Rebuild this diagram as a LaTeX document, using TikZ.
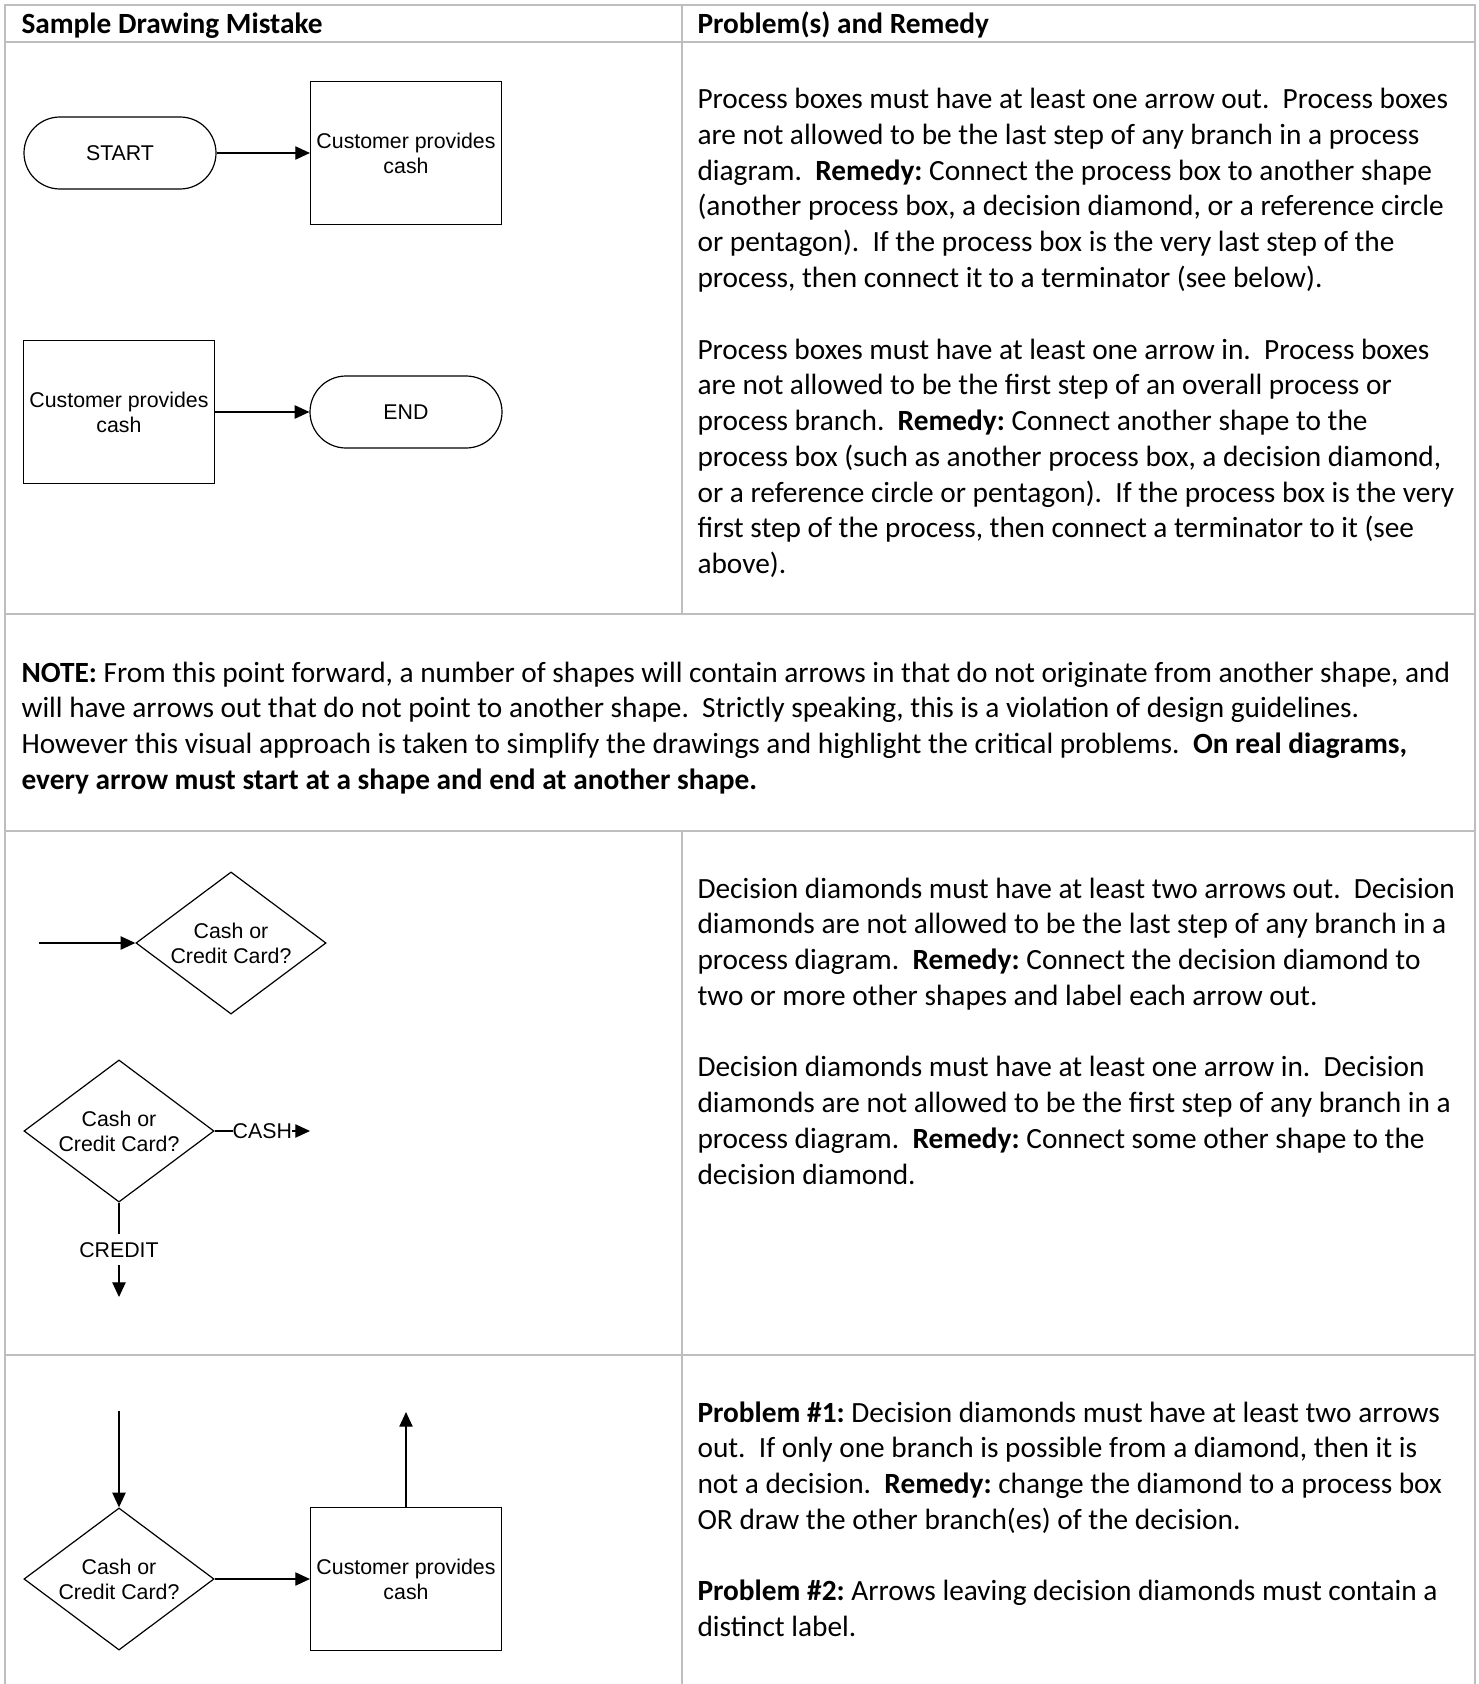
\documentclass[tikz,border=0pt]{standalone}
\usepackage{fontspec}
\setmainfont{Carlito}
\newfontfamily\arialf{Liberation Sans}
\usetikzlibrary{arrows.meta,shapes.geometric}
\definecolor{tablegray}{RGB}{190,190,190}
\newcommand{\bodytext}[2]{\parbox[t]{#1}{\raggedright\frenchspacing\fontsize{11pt}{13.42pt}\selectfont #2}}
\newcommand{\ds}{\ \ }
\begin{document}
\begin{tikzpicture}[x=0.375pt,y=-0.375pt,
  gridline/.style={draw=tablegray, line width=0.9pt},
  shapefont/.style={font=\arialf\fontsize{8pt}{9.4pt}\selectfont, align=center},
  terminal/.style={shapefont, draw, line width=0.45pt, rounded corners=13.5pt, minimum width=72pt, minimum height=27pt, inner sep=0pt},
  procbox/.style={shapefont, draw, line width=0.45pt, minimum width=71.6pt, minimum height=53.6pt, inner sep=0pt},
  decision/.style={shapefont, draw, diamond, aspect=1.34, line width=0.45pt, minimum width=71.3pt, minimum height=53.3pt, inner sep=0pt},
  flow/.style={line width=0.45pt, -{Triangle[length=5.5pt,width=5pt]}},
  flowlabel/.style={shapefont, fill=white},
  bodynode/.style={anchor=base west, inner sep=0pt},
]
\useasboundingbox (0,0) rectangle (1479,1684);
\fill[white] (0,0) rectangle (1479,1684);

% table grid
\draw[gridline] (5,1684) -- (5,5) -- (1475,5) -- (1475,1684);
\draw[gridline] (5,42) -- (1475,42);
\draw[gridline] (5,614) -- (1475,614);
\draw[gridline] (5,831) -- (1475,831);
\draw[gridline] (5,1355) -- (1475,1355);
\draw[gridline] (682,5) -- (682,614);
\draw[gridline] (682,831) -- (682,1684);

% headers
\node[bodynode] (h1) at (21,34) {\bodytext{300pt}{\bfseries Sample Drawing Mistake}};
\node[bodynode] (h2) at (697,34) {\bodytext{300pt}{\bfseries Problem(s) and Remedy}};

% row 1 shapes
\node[terminal] (start) at (120,153) {START};
\node[procbox] (box1) at (406,153) {Customer provides\\cash};
\draw[flow] (start) -- (box1);
\node[procbox] (box2) at (119,412) {Customer provides\\cash};
\node[terminal] (end) at (406,412) {END};
\draw[flow] (box2) -- (end);

% row 1 text
\node[bodynode] (t1) at (697,108.5) {\bodytext{420pt}{%
Process boxes must have at least one arrow out.\ds Process boxes\\
are not allowed to be the last step of any branch in a process\\
diagram.\ds \textbf{Remedy:} Connect the process box to another shape\\
(another process box, a decision diamond, or a reference circle\\
or pentagon).\ds If the process box is the very last step of the\\
process, then connect it to a terminator (see below).\\[13.42pt]
Process boxes must have at least one arrow in.\ds Process boxes\\
are not allowed to be the first step of an overall process or\\
process branch.\ds \textbf{Remedy:} Connect another shape to the\\
process box (such as another process box, a decision diamond,\\
or a reference circle or pentagon).\ds If the process box is the very\\
first step of the process, then connect a terminator to it (see\\
above).}};

% note row
\node[bodynode] (note) at (21,682) {\bodytext{600pt}{%
\textbf{NOTE:} From this point forward, a number of shapes will contain arrows in that do not originate from another shape, and\\
will have arrows out that do not point to another shape.\ds Strictly speaking, this is a violation of design guidelines.\\
However this visual approach is taken to simplify the drawings and highlight the critical problems.\ds \textbf{On real diagrams,}\\
\textbf{every arrow must start at a shape and end at another shape.}}};

% row 3 shapes
\coordinate (in3) at (39,943);
\node[decision] (d1) at (231,943) {Cash or\\Credit Card?};
\draw[flow] (in3) -- (d1);
\node[decision] (d2) at (119,1131) {Cash or\\Credit Card?};
\coordinate (cashend) at (310,1131);
\coordinate (creditend) at (119,1297);
\draw[flow] (d2.east) -- node[flowlabel, inner xsep=0pt, inner ysep=1pt] (cashlbl) {CASH} (cashend);
\draw[flow] (d2.south) -- node[flowlabel, inner xsep=1pt, inner ysep=3pt] (creditlbl) {CREDIT} (creditend);

% row 3 text
\node[bodynode] (t3) at (697,898) {\bodytext{420pt}{%
Decision diamonds must have at least two arrows out.\ds Decision\\
diamonds are not allowed to be the last step of any branch in a\\
process diagram.\ds \textbf{Remedy:} Connect the decision diamond to\\
two or more other shapes and label each arrow out.\\[13.42pt]
Decision diamonds must have at least one arrow in.\ds Decision\\
diamonds are not allowed to be the first step of any branch in a\\
process diagram.\ds \textbf{Remedy:} Connect some other shape to the\\
decision diamond.}};

% row 4 shapes
\coordinate (in4) at (119,1411);
\node[decision] (d3) at (119,1579) {Cash or\\Credit Card?};
\node[procbox] (box3) at (406,1579) {Customer provides\\cash};
\coordinate (out4) at (406,1412);
\draw[flow] (in4) -- (d3);
\draw[flow] (d3) -- (box3);
\draw[flow] (box3) -- (out4);

% row 4 text
\node[bodynode] (t4) at (697,1422) {\bodytext{420pt}{%
\textbf{Problem \#1:} Decision diamonds must have at least two arrows\\
out.\ds If only one branch is possible from a diamond, then it is\\
not a decision.\ds \textbf{Remedy:} change the diamond to a process box\\
OR draw the other branch(es) of the decision.\\[13.42pt]
\textbf{Problem \#2:} Arrows leaving decision diamonds must contain a\\
distinct label.}};
\end{tikzpicture}
\end{document}
